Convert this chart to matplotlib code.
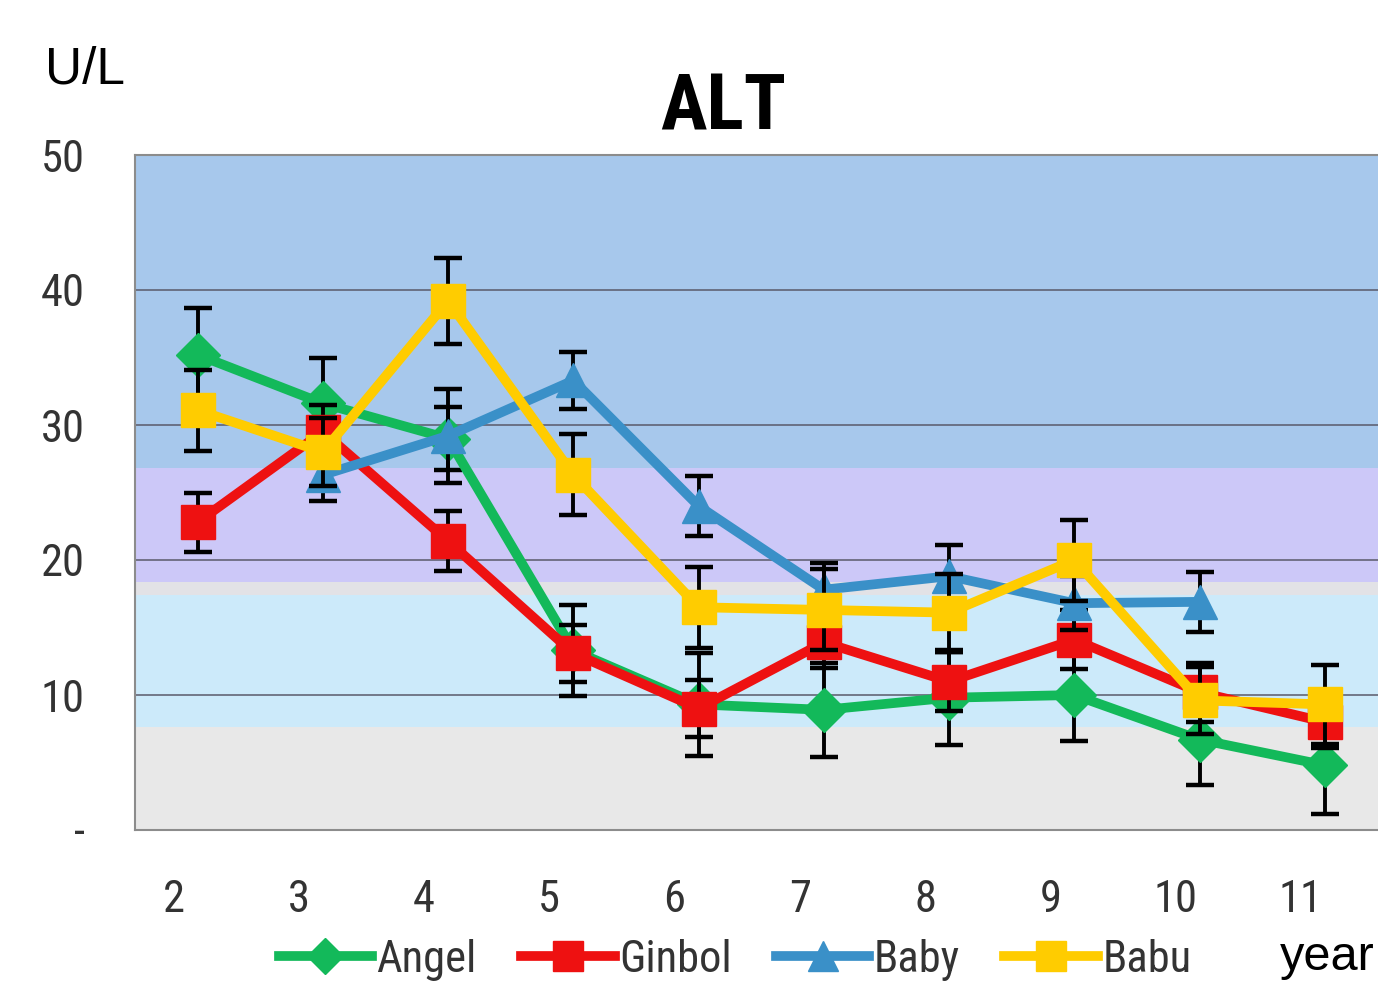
import matplotlib
matplotlib.use("Agg")
import matplotlib.pyplot as plt
from matplotlib.transforms import ScaledTranslation

years = [2, 3, 4, 5, 6, 7, 8, 9, 10, 11]
year_labels = ["2", "3", "4", "5", "6", "7", "8", "9", "10", "11"]

angel = [35.2, 31.6, 29.0, 13.3, 9.3, 8.9, 9.8, 10.0, 6.7, 4.8]
angel_err = [3.5, 3.4, 2.3, 3.4, 3.8, 3.5, 3.5, 3.4, 3.4, 3.6]

ginbol = [22.8, 29.5, 21.4, 13.1, 9.0, 13.9, 11.0, 14.1, 10.2, 8.0]
ginbol_err = [2.2, 2.0, 2.2, 2.1, 2.1, 1.9, 2.2, 2.2, 2.2, 1.9]

baby_years = [3, 4, 5, 6, 7, 8, 9, 10]
baby = [26.3, 29.2, 33.3, 24.0, 17.8, 18.8, 16.8, 16.9]
baby_err = [1.9, 3.5, 2.1, 2.2, 2.0, 2.3, 2.0, 2.2]

babu = [31.1, 28.0, 39.2, 26.3, 16.5, 16.3, 16.1, 20.0, 9.6, 9.3]
babu_err = [3.0, 2.5, 3.2, 3.0, 3.0, 3.0, 2.9, 3.0, 2.5, 2.9]

y_ticks = [0, 10, 20, 30, 40, 50]
y_tick_labels = ["-", "10", "20", "30", "40", "50"]

narrow = ["Roboto Condensed", "PT Sans Narrow", "DejaVu Sans"]
plain = ["Liberation Sans", "DejaVu Sans"]

W, H = 1378, 990
fig = plt.figure(figsize=(W / 100, H / 100), dpi=100)
fig.patch.set_facecolor("white")

left, right, top, bottom = 135, 1387.5, 155, 830
ax = fig.add_axes([left / W, 1 - bottom / H, (right - left) / W, (bottom - top) / H])

# background bands
ax.axhspan(26.8, 50, color="#A7C8EC", zorder=0, lw=0)
ax.axhspan(18.4, 26.8, color="#CCC8F8", zorder=0, lw=0)
ax.axhspan(17.4, 18.4, color="#E2E2E6", zorder=0, lw=0)
ax.axhspan(7.6, 17.4, color="#CCEAFA", zorder=0, lw=0)
ax.axhspan(0, 7.6, color="#E8E8E8", zorder=0, lw=0)

for yv in [10, 20, 30, 40]:
    ax.axhline(yv, color="#5A5A6A", lw=1.1, zorder=1)

series = [
    ("Angel", years, angel, angel_err, "#13B95A", "D", 22),
    ("Ginbol", years, ginbol, ginbol_err, "#EE1111", "s", 25),
    ("Baby", baby_years, baby, baby_err, "#3A90C8", "^", 25),
    ("Babu", years, babu, babu_err, "#FFCC00", "s", 25),
]

for i, (name, xs, ys, es, col, mk, ms) in enumerate(series):
    z = 3 + i
    ax.errorbar(xs, ys, yerr=es, fmt="none", ecolor="black", elinewidth=2.8,
                capsize=10, capthick=3.2, zorder=z)
    ax.plot(xs, ys, color=col, lw=7, marker=mk, ms=ms, mec=col, mfc=col,
            zorder=z + 0.5, label=name)

ax.set_xlim(1.5, 11.5)
ax.set_ylim(0, 50)
ax.set_yticks(y_ticks)
ax.set_yticklabels(y_tick_labels)
ax.set_xticks(years)
ax.set_xticklabels(year_labels)
ax.tick_params(axis="both", length=0, labelsize=32, colors="#333333")
ax.tick_params(axis="y", pad=36)
ax.tick_params(axis="x", pad=35)
for lab in ax.get_xticklabels() + ax.get_yticklabels():
    lab.set_family(narrow)
for lab in ax.get_xticklabels():
    lab.set_transform(lab.get_transform() + ScaledTranslation(-0.24, 0, fig.dpi_scale_trans))

for s in ["left", "bottom", "top"]:
    ax.spines[s].set_color("#8C8C8C")
    ax.spines[s].set_linewidth(1.5)
ax.spines["right"].set_visible(False)

fig.text(723 / W, 1 - 108 / H, "ALT", ha="center", va="center", fontsize=56,
         fontweight="bold", family=narrow)
fig.text(45 / W, 1 - 70 / H, "U/L", ha="left", va="center", fontsize=37,
         family=plain)
fig.text(1280 / W, 1 - 958 / H, "year", ha="left", va="center", fontsize=35,
         family=plain)

leg_handles = []
for name, xs, ys, es, col, mk, ms in series:
    h, = ax.plot([], [], color=col, lw=7, marker=mk, ms=ms * 0.85, mec=col, mfc=col)
    leg_handles.append(h)
leg = fig.legend(leg_handles, [s[0] for s in series], loc="center",
                 bbox_to_anchor=(735 / W, 1 - 960 / H), ncol=4, frameon=False,
                 handlelength=2.1, handletextpad=0.1, columnspacing=1.0,
                 prop={"family": narrow, "size": 32})
for t in leg.get_texts():
    t.set_color("#333333")

fig.savefig("out.png", dpi=100, facecolor="white")
